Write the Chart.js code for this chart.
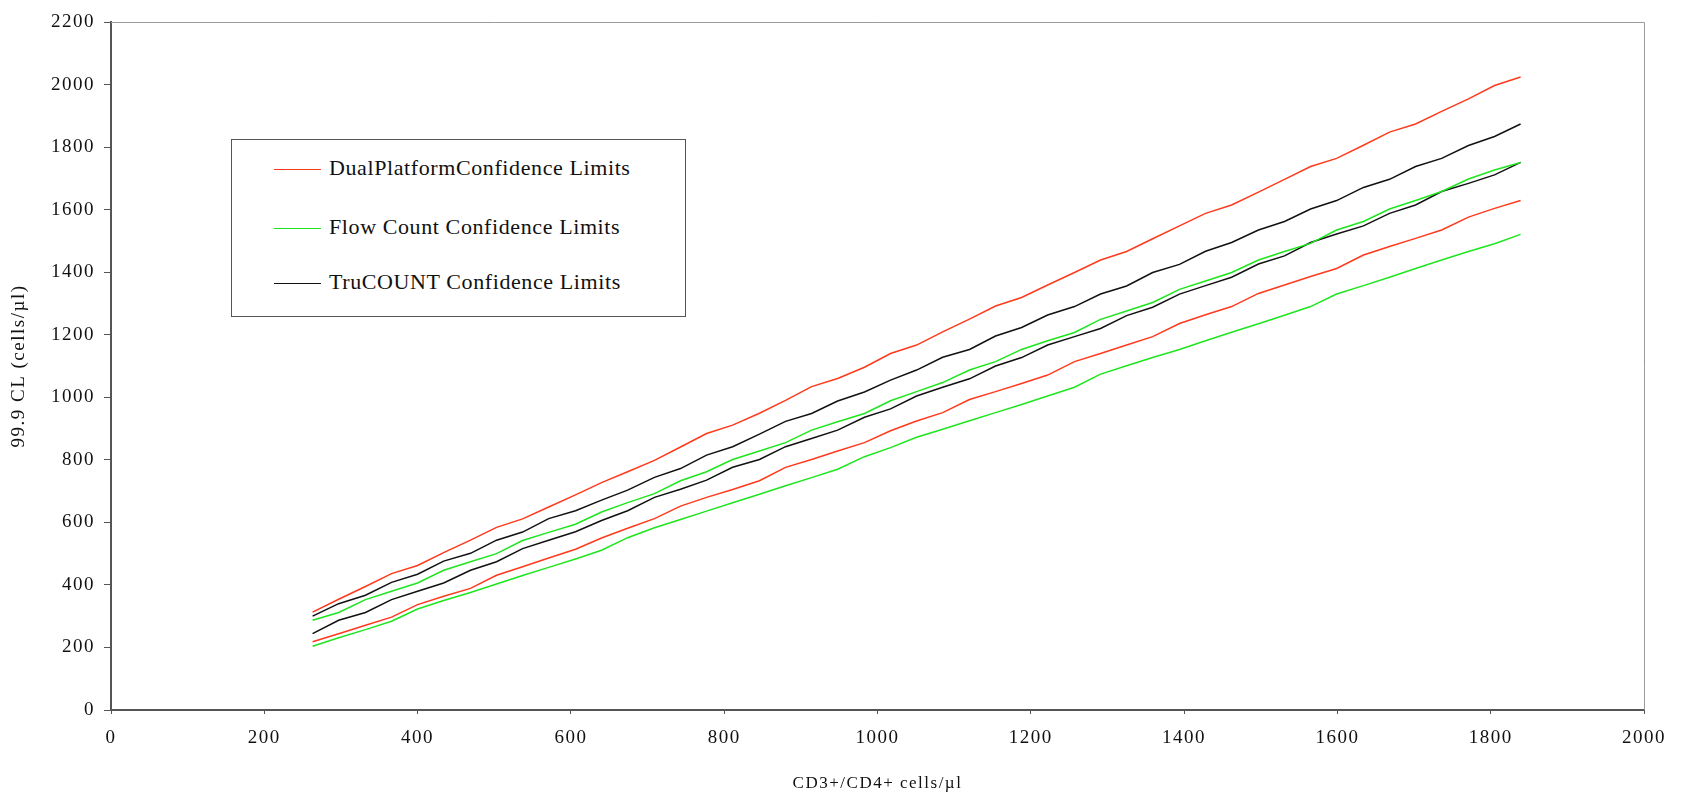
<!DOCTYPE html>
<html>
<head>
<meta charset="utf-8">
<script src="https://cdn.jsdelivr.net/npm/chart.js@4/dist/chart.umd.min.js"></script>
<style>
    body { margin: 0; background: #fff; }
    #wrap { position: relative; width: 1682px; height: 795px; }
    #legendBox {
        position: absolute; left: 231px; top: 139px; width: 453px; height: 176px;
        border: 1.5px solid #555; background: #fff;
        font-family: "Liberation Serif", "Times New Roman", serif; font-size: 22px; letter-spacing: 0.6px; color: #111;
    }
    .row { position: absolute; left: 42px; height: 24px; line-height: 24px; white-space: nowrap; }
    .row span.swatch { display: inline-block; width: 47px; height: 0; border-top: 1.5px solid; vertical-align: middle; margin-right: 8px; }
</style>
</head>
<body>
<div id="wrap">
    <canvas id="chart"></canvas>
    <div id="legendBox"></div>
</div>
<script>
// CD3+/CD4+ cells/µl
const xValues = [263, 297, 332, 366, 400, 434, 469, 503, 537, 571, 606, 640, 674, 709, 743, 777,
    811, 846, 880, 914, 948, 983, 1017, 1051, 1085, 1120, 1154, 1188, 1222, 1257, 1291, 1325,
    1359, 1394, 1428, 1462, 1497, 1531, 1565, 1599, 1634, 1668, 1702, 1736, 1771, 1805, 1839];

const dualUpper = [313, 354, 395, 436, 462, 503, 543, 584, 611, 649, 688, 727, 762, 798, 841, 884,
    911, 949, 990, 1034, 1060, 1096, 1140, 1167, 1209, 1250, 1292, 1319, 1359, 1399, 1439, 1466,
    1507, 1548, 1588, 1615, 1656, 1697, 1738, 1764, 1806, 1848, 1874, 1914, 1954, 1997, 2024];
const dualLower = [218, 244, 271, 297, 337, 364, 389, 431, 458, 486, 514, 550, 581, 612, 652, 680,
    705, 733, 776, 801, 828, 855, 893, 924, 951, 993, 1018, 1044, 1071, 1114, 1140, 1167,
    1194, 1236, 1264, 1290, 1332, 1359, 1386, 1412, 1455, 1482, 1508, 1535, 1576, 1604, 1629];
const flowUpper = [287, 312, 353, 380, 406, 447, 474, 500, 542, 568, 594, 633, 663, 692, 733, 762,
    801, 828, 855, 895, 922, 948, 989, 1018, 1047, 1087, 1114, 1153, 1181, 1207, 1249, 1276,
    1303, 1345, 1372, 1399, 1439, 1466, 1492, 1535, 1562, 1602, 1629, 1658, 1698, 1727, 1751];
const flowLower = [204, 231, 257, 284, 323, 350, 376, 403, 430, 456, 483, 511, 551, 583, 609, 636,
    663, 690, 717, 743, 770, 810, 839, 872, 898, 925, 951, 977, 1004, 1032, 1074, 1101,
    1127, 1153, 1181, 1208, 1235, 1262, 1290, 1330, 1357, 1384, 1412, 1439, 1466, 1491, 1521];
const truUpper = [300, 340, 367, 408, 434, 476, 501, 543, 569, 612, 637, 671, 703, 744, 772, 815,
    842, 882, 923, 948, 988, 1017, 1055, 1087, 1128, 1153, 1196, 1223, 1263, 1290, 1330, 1356,
    1399, 1425, 1467, 1495, 1535, 1562, 1602, 1629, 1671, 1697, 1738, 1764, 1805, 1834, 1874];
const truLower = [244, 287, 312, 353, 380, 406, 447, 474, 516, 543, 570, 606, 637, 680, 706, 735,
    776, 801, 842, 868, 895, 936, 963, 1004, 1032, 1059, 1100, 1127, 1167, 1194, 1220, 1261,
    1288, 1330, 1357, 1384, 1426, 1452, 1495, 1522, 1548, 1588, 1615, 1658, 1684, 1711, 1751];

const legendNames = ['DualPlatformConfidence Limits', 'Flow Count Confidence Limits', 'TruCOUNT Confidence Limits'];

const RED = '#ff3a1c';
const GREEN = '#1ee61e';
const BLACK = '#111111';
const FONT = '"Liberation Serif", "Times New Roman", serif';

function points(arr) {
    return arr.map(function (y, i) { return { x: xValues[i], y: y }; });
}
function series(label, arr, color) {
    return {
        label: label,
        data: points(arr),
        borderColor: color,
        backgroundColor: color,
        borderWidth: 1.5,
        pointRadius: 0,
        tension: 0,
        fill: false
    };
}

// plain numbers on the axes, no thousands separator
function plain(value) {
    return String(value);
}

// top and right frame lines (light grey), and the wide letter spacing of the axis text
const frame = {
    id: 'frame',
    beforeDraw: function (chart) {
        chart.ctx.letterSpacing = '1.5px';
    },
    beforeDatasetsDraw: function (chart) {
        const a = chart.chartArea, ctx = chart.ctx;
        ctx.save();
        ctx.strokeStyle = '#999';
        ctx.lineWidth = 1;
        ctx.beginPath();
        ctx.moveTo(a.left, a.top + 0.5);
        ctx.lineTo(a.right + 0.5, a.top + 0.5);
        ctx.lineTo(a.right + 0.5, a.bottom);
        ctx.stroke();
        ctx.restore();
    }
};

new Chart(document.getElementById('chart'), {
    type: 'line',
    data: {
        datasets: [
            series(legendNames[0], dualUpper, RED),
            series(legendNames[0], dualLower, RED),
            series(legendNames[1], flowUpper, GREEN),
            series(legendNames[1], flowLower, GREEN),
            series(legendNames[2], truUpper, BLACK),
            series(legendNames[2], truLower, BLACK)
        ]
    },
    options: {
        responsive: true,
        maintainAspectRatio: false,
        animation: false,
        layout: { padding: { top: 22, right: 38, left: 0, bottom: 0 } },
        plugins: {
            legend: { display: false },
            tooltip: { enabled: false }
        },
        scales: {
            x: {
                type: 'linear',
                min: 0,
                max: 2000,
                afterFit: function (scale) { scale.height = 85; },
                ticks: { stepSize: 200, padding: 13, color: '#111', font: { family: FONT, size: 19 }, maxRotation: 0, callback: plain },
                grid: { drawOnChartArea: false, drawTicks: true, tickLength: 4, color: '#555', lineWidth: 1 },
                border: { display: true, color: '#555', width: 2 },
                title: {
                    display: true,
                    text: 'CD3+/CD4+ cells/µl',
                    color: '#111',
                    font: { family: FONT, size: 17 },
                    padding: { top: 0, bottom: 1 }
                }
            },
            y: {
                min: 0,
                max: 2200,
                afterFit: function (scale) { scale.width = 111; },
                ticks: { stepSize: 200, padding: 9, color: '#111', font: { family: FONT, size: 19 }, callback: plain },
                grid: { drawOnChartArea: false, drawTicks: true, tickLength: 7, color: '#555', lineWidth: 1 },
                border: { display: true, color: '#555', width: 2 },
                title: {
                    display: true,
                    text: '99.9 CL (cells/µl)',
                    color: '#111',
                    font: { family: FONT, size: 19 },
                    padding: { top: 8, bottom: 0 }
                }
            }
        }
    },
    plugins: [frame]
});

// legend box (three entries, one per method)
const legendColors = [RED, GREEN, BLACK];
const rowTops = [16, 75, 130];
let html = '';
legendNames.forEach(function (name, i) {
    html += '<div class="row" style="top:' + rowTops[i] + 'px"><span class="swatch" style="border-color:' +
        legendColors[i] + '"></span>' + name + '</div>';
});
document.getElementById('legendBox').innerHTML = html;
</script>
</body>
</html>
